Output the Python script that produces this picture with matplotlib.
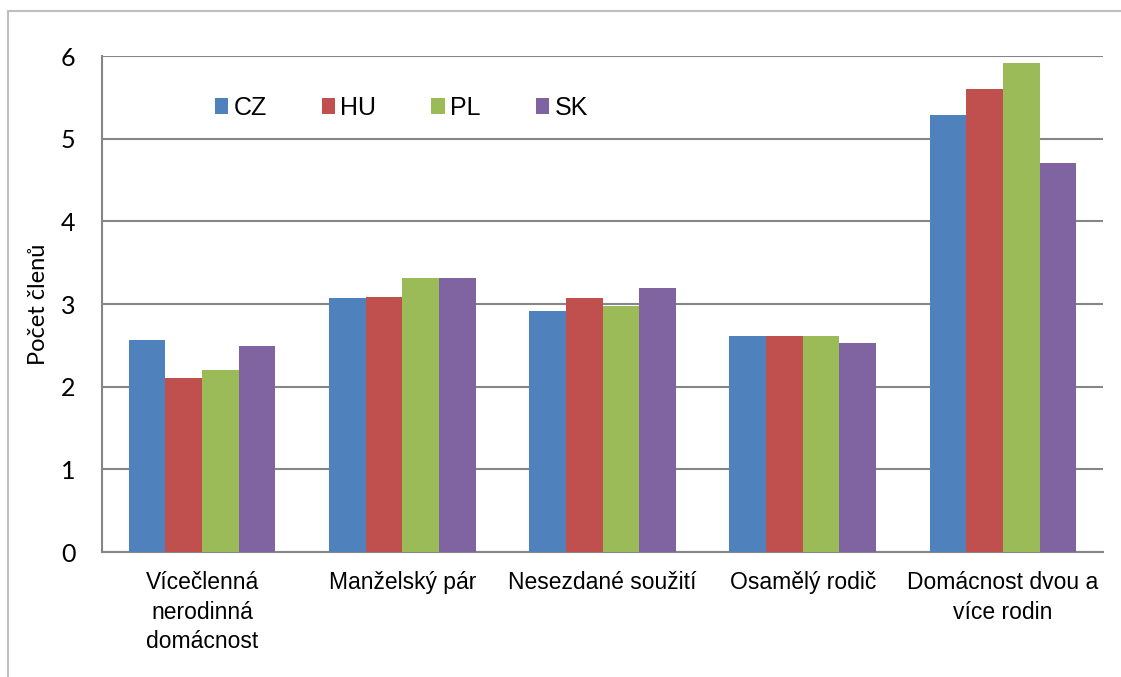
import matplotlib.pyplot as plt
import numpy as np
from matplotlib.lines import Line2D

# data
categories = ['Vícečlenná\nnerodinná\ndomácnost', 'Manželský pár', 'Nesezdané soužití',
              'Osamělý rodič', 'Domácnost dvou a\nvíce rodin']
series = ['CZ', 'HU', 'PL', 'SK']
cz = [2.56, 3.07, 2.92, 2.61, 5.29]
hu = [2.10, 3.09, 3.07, 2.61, 5.60]
pl = [2.20, 3.31, 2.97, 2.61, 5.92]
sk = [2.49, 3.31, 3.19, 2.53, 4.71]
values = [cz, hu, pl, sk]
colors = ['#4F81BD', '#C0504D', '#9BBB59', '#8064A2']

W, H = 1121, 677
fig = plt.figure(figsize=(W/100, H/100), dpi=100)
ax = fig.add_axes([102/W, 1-552/H, (1103-102)/W, (552-56)/H])

x = np.arange(len(categories))
bw = 0.183
for i, (s, v, c) in enumerate(zip(series, values, colors)):
    ax.bar(x + (i-1.5)*bw, v, bw, color=c, label=s, zorder=3)

ax.set_xlim(-0.5, len(categories)-0.5)
ax.set_ylim(0, 6)
ax.set_yticks(range(7))
ax.yaxis.grid(True, color='#868686', linewidth=1.5, zorder=0)
for sp in ['top', 'right']:
    ax.spines[sp].set_visible(False)
for sp in ['left', 'bottom']:
    ax.spines[sp].set_color('#868686')
    ax.spines[sp].set_linewidth(1.5)

ax.set_xticks(x)
ax.set_xticklabels(categories, fontsize=16.5, family='Liberation Sans', linespacing=1.35)
ax.tick_params(axis='x', length=0, pad=14)
ax.tick_params(axis='y', length=0, pad=19, labelsize=18)
for t in ax.get_yticklabels():
    t.set_family('Lato')
ax.set_ylabel('Počet členů', fontsize=17, family='Lato')
ax.yaxis.set_label_coords(-0.053, 0.5)

leg = ax.legend(ncol=4, frameon=False, loc='upper left', bbox_to_anchor=(0.090, 0.965),
                prop={'family': 'Liberation Sans', 'size': 18},
                handlelength=0.55, handleheight=0.55, handletextpad=0.2, columnspacing=2.2)

# outer chart border (left and top visible)
fig.add_artist(Line2D([8/W, 8/W], [0, 1-11/H], color='#BFBFBF', linewidth=1.5))
fig.add_artist(Line2D([8/W, 1], [1-11/H, 1-11/H], color='#BFBFBF', linewidth=1.5))

fig.savefig('out.png', dpi=100)
